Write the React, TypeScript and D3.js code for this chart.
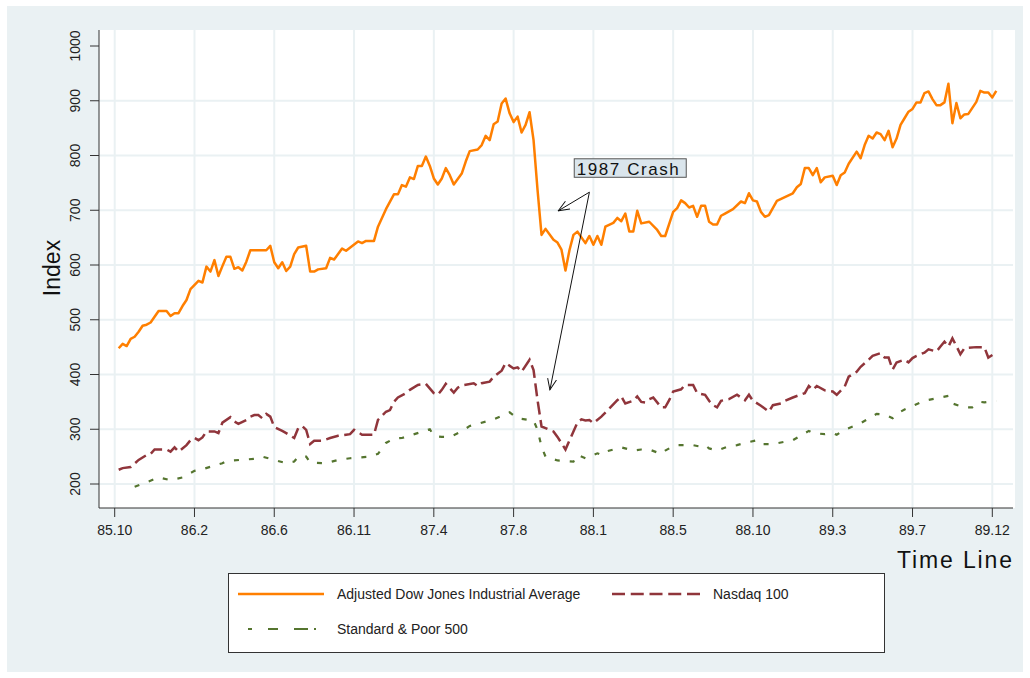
import React from 'react';
import * as d3 from 'd3';

// weekly observations: [week index from Oct 1985, index value]
const dow: [number, number][] = [
  [1, 448], [2, 456], [3, 452], [4, 465], [5, 469], [6, 478], [7, 489], [8, 491], [9, 495], [11, 516],
  [13, 516], [14, 507], [15, 512], [16, 512], [17, 525], [18, 536], [19, 556], [21, 571], [22, 568], [23, 597],
  [24, 588], [25, 609], [26, 580], [27, 598], [28, 615], [29, 615], [30, 593], [31, 596], [32, 590], [33, 606],
  [34, 627], [38, 627], [39, 635], [40, 605], [41, 594], [42, 605], [43, 589], [44, 597], [45, 620], [46, 632],
  [48, 635], [49, 588], [50, 588], [51, 592], [53, 594], [54, 613], [55, 610], [57, 630], [58, 626], [61, 643],
  [62, 640], [63, 644], [65, 644], [66, 670], [68, 702], [70, 729], [71, 729], [72, 746], [73, 743], [74, 760],
  [75, 757], [76, 781], [77, 781], [78, 798], [79, 781], [80, 758], [81, 747], [82, 758], [83, 777], [84, 764],
  [85, 747], [87, 767], [88, 789], [89, 808], [91, 811], [92, 819], [93, 836], [94, 828], [95, 857], [96, 862],
  [97, 895], [98, 904], [99, 877], [100, 861], [101, 871], [102, 842], [103, 856], [104, 879], [105, 828], [106, 737],
  [107, 655], [108, 666], [110, 646], [111, 641], [112, 628], [113, 590], [114, 627], [115, 655], [116, 661], [118, 640],
  [119, 653], [120, 637], [121, 653], [122, 637], [123, 670], [125, 677], [126, 686], [127, 680], [128, 694], [129, 661],
  [130, 661], [131, 699], [132, 676], [134, 679], [136, 664], [137, 653], [138, 653], [140, 697], [141, 704], [142, 718],
  [143, 713], [144, 705], [145, 708], [146, 688], [147, 708], [148, 708], [149, 679], [150, 674], [151, 674], [152, 690],
  [153, 694], [155, 702], [157, 716], [158, 713], [159, 731], [160, 718], [161, 716], [162, 697], [163, 688], [164, 691],
  [166, 717], [168, 724], [170, 731], [171, 742], [172, 748], [173, 777], [174, 777], [175, 764], [176, 777], [177, 751],
  [178, 760], [180, 763], [181, 746], [182, 764], [183, 769], [184, 785], [186, 807], [187, 795], [188, 819], [189, 836],
  [190, 831], [191, 842], [192, 839], [193, 828], [194, 845], [195, 815], [196, 831], [197, 856], [198, 868], [199, 880],
  [200, 885], [201, 897], [202, 897], [203, 914], [204, 917], [205, 903], [206, 892], [207, 892], [208, 897], [209, 931],
  [210, 859], [211, 896], [212, 868], [213, 875], [214, 876], [216, 898], [217, 918], [218, 915], [219, 915], [220, 906],
  [221, 918],
];

const nasdaq: [number, number][] = [
  [1, 226], [2, 229], [4, 231], [6, 244], [8, 253], [9, 255], [10, 263], [13, 263], [14, 259], [15, 267],
  [16, 259], [18, 271], [19, 280], [20, 284], [21, 280], [22, 285], [23, 296], [25, 296], [26, 293], [27, 312],
  [29, 322], [30, 314], [31, 310], [33, 317], [34, 323], [35, 326], [36, 326], [37, 320], [38, 328], [39, 323],
  [40, 304], [42, 297], [43, 293], [45, 284], [46, 302], [47, 306], [48, 299], [49, 273], [50, 279], [52, 279],
  [54, 284], [56, 288], [58, 290], [59, 291], [60, 299], [62, 290], [65, 290], [66, 317], [68, 332], [69, 335],
  [70, 350], [71, 358], [73, 366], [74, 372], [76, 381], [78, 383], [80, 366], [81, 363], [82, 372], [83, 383],
  [85, 367], [86, 376], [87, 380], [90, 384], [91, 379], [92, 384], [94, 387], [95, 396], [97, 407], [98, 421],
  [100, 411], [101, 413], [102, 405], [104, 427], [105, 408], [106, 353], [107, 305], [108, 302], [110, 296], [111, 286],
  [113, 263], [115, 296], [116, 312], [117, 318], [118, 316], [119, 317], [120, 311], [122, 323], [126, 353], [127, 360],
  [128, 347], [130, 352], [131, 360], [132, 350], [133, 349], [134, 355], [135, 358], [137, 340], [138, 340], [139, 353],
  [140, 369], [142, 373], [143, 381], [145, 381], [146, 366], [148, 363], [149, 352], [150, 344], [151, 340], [152, 352],
  [154, 355], [156, 363], [158, 353], [159, 363], [160, 352], [162, 343], [164, 332], [165, 344], [167, 347], [168, 352],
  [170, 358], [173, 366], [174, 379], [175, 372], [176, 379], [178, 371], [180, 369], [181, 363], [183, 378], [184, 396],
  [186, 405], [187, 414], [189, 427], [190, 434], [192, 439], [193, 431], [194, 431], [195, 409], [196, 422], [198, 427],
  [199, 422], [200, 430], [201, 434], [203, 440], [204, 446], [206, 442], [207, 451], [208, 460], [209, 451], [210, 466],
  [211, 452], [212, 437], [213, 448], [216, 450], [218, 450], [219, 431], [221, 440],
];

const sp500: [number, number][] = [
  [5, 195], [8, 203], [11, 212], [14, 207], [17, 212], [20, 224], [22, 227], [27, 238], [28, 242],
  [35, 246], [37, 250], [43, 238], [45, 241], [46, 250], [48, 250], [49, 239], [53, 238], [56, 244], [59, 247],
  [64, 250], [66, 255], [68, 275], [70, 283], [72, 284], [79, 300], [80, 288], [82, 286], [84, 286], [87, 296],
  [89, 306], [95, 318], [99, 331], [101, 320], [105, 316], [106, 299], [107, 268], [108, 250], [111, 243], [115, 241],
  [116, 253], [118, 247], [121, 256], [122, 253], [123, 259], [127, 267], [130, 261], [132, 263], [134, 263], [137, 255],
  [138, 261], [140, 269], [141, 271], [145, 271], [147, 268], [148, 271], [149, 265], [151, 261], [154, 269], [156, 271],
  [158, 275], [161, 280], [162, 273], [165, 273], [170, 280], [174, 297], [175, 293], [178, 291], [180, 293], [181, 290],
  [183, 299], [187, 311], [191, 328], [193, 327], [195, 320], [197, 332], [198, 336], [203, 352], [209, 361], [210, 347],
  [213, 340], [215, 340], [217, 350], [218, 349], [221, 352],
];

const xTickWeeks = [0, 20, 40, 60, 80, 100, 120, 140, 160, 180, 200, 220];
const xTickLabels = ['85.10', '86.2', '86.6', '86.11', '87.4', '87.8', '88.1', '88.5', '88.10', '89.3', '89.7', '89.12'];
const yTicks = [200, 300, 400, 500, 600, 700, 800, 900, 1000];

const seriesNames = ['Adjusted Dow Jones Industrial Average', 'Nasdaq 100', 'Standard & Poor 500'];

// annotation, in data coordinates
const crashLabel = '1987 Crash';
const crashBox = { week: 115.2, value: 794 };
const crashFrom = { week: 119, value: 733 };
const crashTo = [{ week: 111.2, value: 699 }, { week: 109.1, value: 372 }];

const FONT = '"Liberation Sans", Arial, Helvetica, sans-serif';
const BG = '#eaf1f3';
const ORANGE = '#ff7f00';
const MAROON = '#90353b';
const GREEN = '#55752f';

const App = () => {
  const plot = { left: 99, right: 1015, top: 30, bottom: 508 };
  const x = d3.scaleLinear().domain([0, 220]).range([114.7, 992.3]);
  const y = d3.scaleLinear().domain([200, 1000]).range([484, 46]);
  const line = d3.line<[number, number]>().x(d => x(d[0])).y(d => y(d[1]));

  const ox = x(crashFrom.week), oy = y(crashFrom.value);
  const bx = x(crashBox.week), by = y(crashBox.value);

  return (
    <svg width={1030} height={678} style={{ position: 'absolute', left: 0, top: 0 }} fontFamily={FONT}>
      <defs>
        <marker id="arrow" markerUnits="userSpaceOnUse" markerWidth={12} markerHeight={12} refX={11} refY={5} orient="auto" viewBox="0 0 12 10">
          <path d="M0,0.5 L11,5 L0,9.5" fill="none" stroke="#111" strokeWidth={1} />
        </marker>
      </defs>
      <rect x={7} y={6} width={1016} height={666} fill={BG} />
      <rect x={plot.left} y={plot.top} width={plot.right - plot.left} height={plot.bottom - plot.top} fill="#fff" />

      {/* grid */}
      {yTicks.filter(t => t < 1000).map(t => (
        <line key={'gy' + t} x1={plot.left} x2={plot.right - 2} y1={y(t)} y2={y(t)} stroke={BG} strokeWidth={2} />
      ))}
      {xTickWeeks.map(w => (
        <line key={'gx' + w} x1={x(w)} x2={x(w)} y1={plot.top} y2={plot.bottom} stroke={BG} strokeWidth={2} />
      ))}

      {/* series */}
      <path d={line(sp500) || ''} fill="none" stroke={GREEN} strokeWidth={2.2} strokeDasharray="5 10" />
      <path d={line(nasdaq) || ''} fill="none" stroke={MAROON} strokeWidth={2.5} strokeDasharray="13 5.5" />
      <path d={line(dow) || ''} fill="none" stroke={ORANGE} strokeWidth={2.5} strokeLinejoin="round" />

      {/* axes */}
      <line x1={plot.left} x2={plot.left} y1={plot.top} y2={plot.bottom} stroke="#333" strokeWidth={1} />
      <line x1={plot.left} x2={plot.right - 2} y1={plot.bottom} y2={plot.bottom} stroke="#333" strokeWidth={1} />
      {yTicks.map(t => (
        <g key={'yt' + t}>
          <line x1={plot.left - 9} x2={plot.left} y1={y(t)} y2={y(t)} stroke="#333" />
          <text transform={`translate(80,${y(t)}) rotate(-90)`} textAnchor="middle" fontSize={14} fill="#222">{t}</text>
        </g>
      ))}
      {xTickWeeks.map((w, i) => (
        <g key={'xt' + w}>
          <line x1={x(w)} x2={x(w)} y1={plot.bottom} y2={plot.bottom + 9} stroke="#333" />
          <text x={x(w)} y={535} textAnchor="middle" fontSize={14} fill="#222">{xTickLabels[i]}</text>
        </g>
      ))}
      <text transform="translate(60,268) rotate(-90)" textAnchor="middle" fontSize={23} fill="#111">Index</text>
      <text x={1012} y={568} textAnchor="end" fontSize={23} fill="#111" textLength={115} lengthAdjust="spacing">Time Line</text>

      {/* annotation */}
      <rect x={bx} y={by} width={112} height={18.5} fill="#dae5ec" stroke="#555" strokeWidth={1} />
      <text x={bx + 2.5} y={by + 16.5} fontSize={17} fill="#111" textLength={102} lengthAdjust="spacing">{crashLabel}</text>
      {crashTo.map((p, i) => (
        <line key={'ar' + i} x1={ox} y1={oy} x2={x(p.week)} y2={y(p.value)} stroke="#111" strokeWidth={1} markerEnd="url(#arrow)" />
      ))}

      {/* legend */}
      <rect x={228.5} y={573.5} width={656} height={79} fill="#fff" stroke="#333" strokeWidth={1} />
      <line x1={238} x2={324} y1={594} y2={594} stroke={ORANGE} strokeWidth={2.5} />
      <text x={337} y={599} fontSize={14} fill="#222">{seriesNames[0]}</text>
      <line x1={612} x2={700} y1={594} y2={594} stroke={MAROON} strokeWidth={2.5} strokeDasharray="13 5.75" />
      <text x={713} y={599} fontSize={14} fill="#222">{seriesNames[1]}</text>
      <line x1={248} x2={324} y1={629} y2={629} stroke={GREEN} strokeWidth={2.2} strokeDasharray="4 16 10 16 14 6 2 30" />
      <text x={337} y={634} fontSize={14} fill="#222">{seriesNames[2]}</text>
    </svg>
  );
};

export default App;
